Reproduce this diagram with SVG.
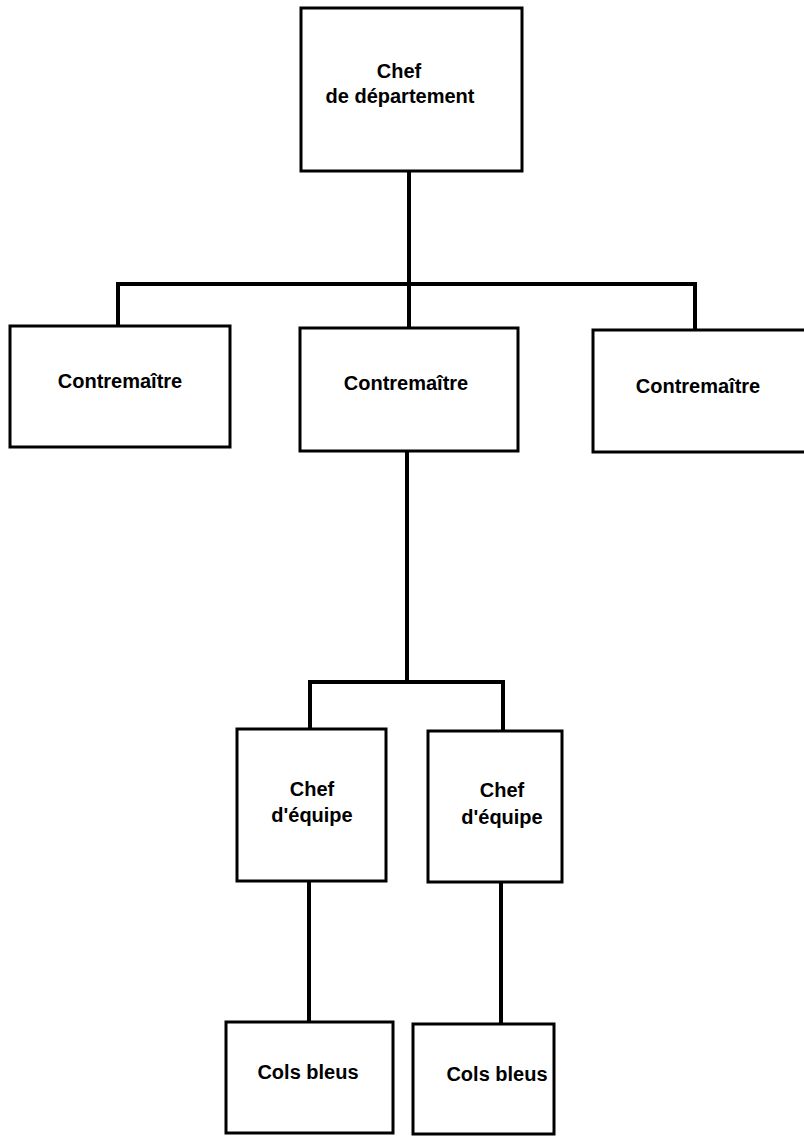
<svg xmlns="http://www.w3.org/2000/svg" width="804" height="1136" viewBox="0 0 804 1136">
<style>
.box{fill:#fff;stroke:#000;stroke-width:3}
.lbl{font-family:"Liberation Sans",Arial,sans-serif;font-weight:bold;font-size:20px;fill:#000;text-anchor:middle}
.conn{fill:none;stroke:#000;stroke-width:4;stroke-linejoin:miter}
</style>
<rect width="804" height="1136" fill="#fff"/>
<g id="connectors">
<path class="conn" d="M409,172 V328"/>
<path class="conn" d="M118,326 V284 H695 V330"/>
<path class="conn" d="M407,451 V682"/>
<path class="conn" d="M310,729 V682 H503 V731"/>
<path class="conn" d="M309,881 V1022"/>
<path class="conn" d="M501,882 V1024"/>
</g>
<g id="chef-departement">
<rect class="box" x="301" y="8" width="221" height="163"/>
<text class="lbl" x="399" y="78">Chef</text>
<text class="lbl" x="400" y="103">de département</text>
</g>
<g id="contremaitre-1">
<rect class="box" x="10" y="326" width="220" height="121"/>
<text class="lbl" x="120" y="388">Contremaître</text>
</g>
<g id="contremaitre-2">
<rect class="box" x="300" y="328" width="218" height="123"/>
<text class="lbl" x="406" y="390">Contremaître</text>
</g>
<g id="contremaitre-3">
<rect class="box" x="593" y="330" width="216" height="122"/>
<text class="lbl" x="698" y="393">Contremaître</text>
</g>
<g id="chef-equipe-1">
<rect class="box" x="237" y="729" width="149" height="152"/>
<text class="lbl" x="312" y="796">Chef</text>
<text class="lbl" x="312" y="822">d'équipe</text>
</g>
<g id="chef-equipe-2">
<rect class="box" x="428" y="731" width="134" height="151"/>
<text class="lbl" x="502" y="797">Chef</text>
<text class="lbl" x="502" y="824">d'équipe</text>
</g>
<g id="cols-bleus-1">
<rect class="box" x="226" y="1022" width="167" height="111"/>
<text class="lbl" x="308" y="1079">Cols bleus</text>
</g>
<g id="cols-bleus-2">
<rect class="box" x="413" y="1024" width="141" height="110"/>
<text class="lbl" x="497" y="1081">Cols bleus</text>
</g>
</svg>
